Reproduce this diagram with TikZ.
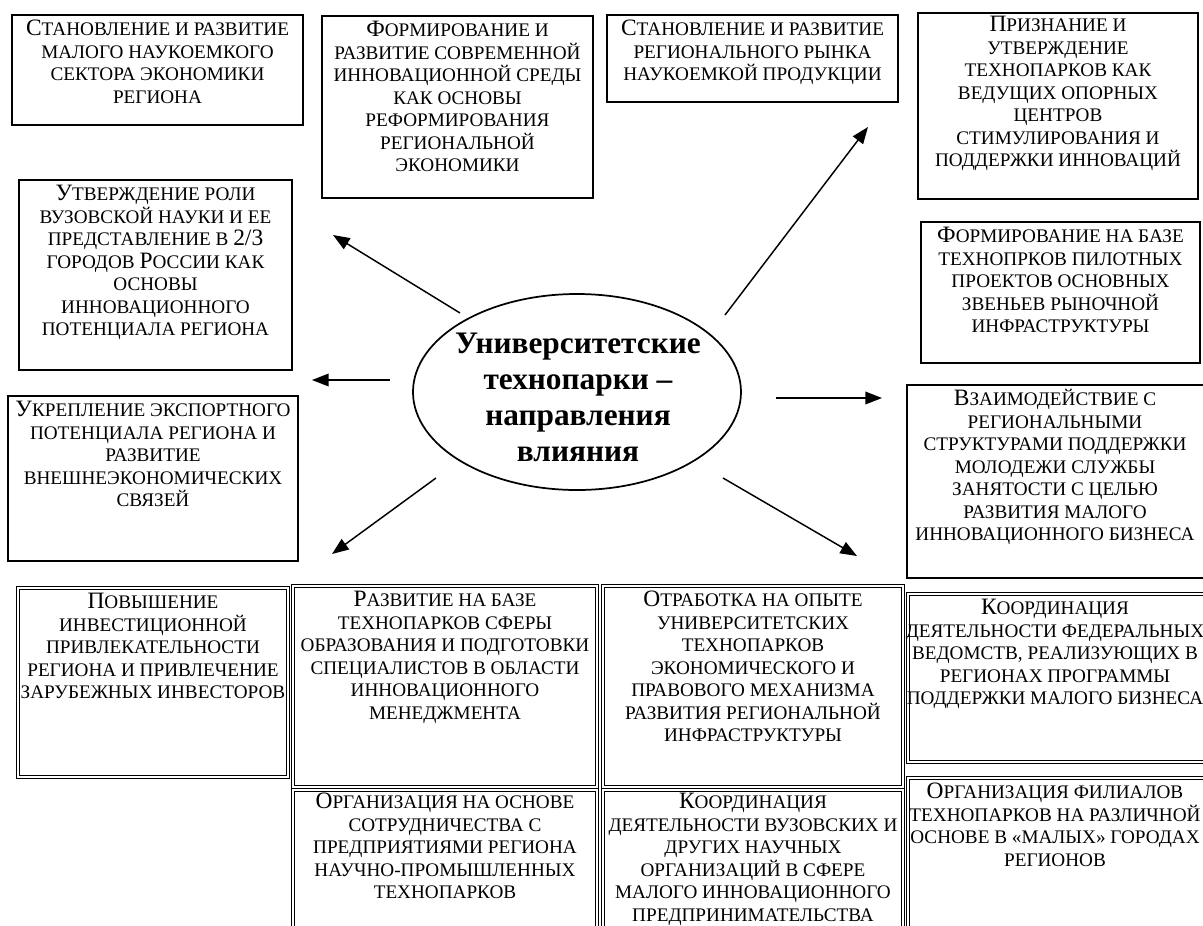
\documentclass[tikz,border=0pt]{standalone}
\usepackage{fontspec}
\setmainfont{Liberation Serif}
\usetikzlibrary{arrows.meta,shapes.geometric,fit}
\newcommand\Bg[1]{{\fontsize{17.6}{16.9}\selectfont #1}}
\newcommand\St{\rule{0pt}{13pt}}
\begin{document}
\begin{tikzpicture}[x=0.75pt,y=-0.75pt,
  box/.style={draw, line width=1.3pt, inner sep=0pt},
  tbox/.style={draw, double, line width=0.6pt, double distance=1.1pt, inner sep=0pt},
  txt/.style={align=center, font=\fontsize{14.4}{16.9}\selectfont, inner sep=0pt, anchor=north},
  arr/.style={line width=1.1pt, -{Triangle[length=12.5pt,width=9.5pt]}}]
\useasboundingbox (0,0) rectangle (1203,925);
\clip (0,0) rectangle (1203,925);

% boxes
\node[box, fit={(12,15) (303,125)}] (b1) {};
\node[box, fit={(322,16) (593,198)}] (b2) {};
\node[box, fit={(607,15) (898,102)}] (b3) {};
\node[box, fit={(918,13) (1198,199)}] (b4) {};
\node[box, fit={(19,180) (292,370)}] (b5) {};
\node[box, fit={(921,222) (1200,363)}] (b6) {};
\node[box, fit={(8,396) (298,561)}] (b7) {};
\node[box, fit={(907,385) (1210,578)}] (b8) {};
\node[tbox, fit={(18,588) (288,777)}] (b9) {};
\node[tbox, fit={(293,586) (597,787)}] (b10) {};
\node[tbox, fit={(603,586) (903,787)}] (b11) {};
\node[tbox, fit={(908,594) (1210,762)}] (b12) {};
\node[tbox, fit={(293,790) (597,940)}] (b13) {};
\node[tbox, fit={(603,790) (903,940)}] (b14) {};
\node[tbox, fit={(908,778) (1210,940)}] (b15) {};

% texts
\node[txt] (t1) at (157.5,18) {\St\Bg{С}ТАНОВЛЕНИЕ И РАЗВИТИЕ\\МАЛОГО НАУКОЕМКОГО\\СЕКТОРА ЭКОНОМИКИ\\РЕГИОНА};
\node[txt] (t2) at (457.5,19) {\St\Bg{Ф}ОРМИРОВАНИЕ И\\РАЗВИТИЕ СОВРЕМЕННОЙ\\ИННОВАЦИОННОЙ СРЕДЫ\\КАК ОСНОВЫ\\РЕФОРМИРОВАНИЯ\\РЕГИОНАЛЬНОЙ\\ЭКОНОМИКИ};
\node[txt] (t3) at (752.5,18) {\St\Bg{С}ТАНОВЛЕНИЕ И РАЗВИТИЕ\\РЕГИОНАЛЬНОГО РЫНКА\\НАУКОЕМКОЙ ПРОДУКЦИИ};
\node[txt] (t4) at (1058,14) {\St\Bg{П}РИЗНАНИЕ И\\УТВЕРЖДЕНИЕ\\ТЕХНОПАРКОВ КАК\\ВЕДУЩИХ ОПОРНЫХ\\ЦЕНТРОВ\\СТИМУЛИРОВАНИЯ И\\ПОДДЕРЖКИ ИННОВАЦИЙ};
\node[txt] (t5) at (155.5,183) {\St\Bg{У}ТВЕРЖДЕНИЕ РОЛИ\\ВУЗОВСКОЙ НАУКИ И ЕЕ\\ПРЕДСТАВЛЕНИЕ В \Bg{2/3}\\ГОРОДОВ \Bg{Р}ОССИИ КАК\\ОСНОВЫ\\ИННОВАЦИОННОГО\\ПОТЕНЦИАЛА РЕГИОНА};
\node[txt] (t6) at (1060.5,225) {\St\Bg{Ф}ОРМИРОВАНИЕ НА БАЗЕ\\ТЕХНОПРКОВ ПИЛОТНЫХ\\ПРОЕКТОВ ОСНОВНЫХ\\ЗВЕНЬЕВ РЫНОЧНОЙ\\ИНФРАСТРУКТУРЫ};
\node[txt] (t7) at (153,399) {\St\Bg{У}КРЕПЛЕНИЕ ЭКСПОРТНОГО\\ПОТЕНЦИАЛА РЕГИОНА И\\РАЗВИТИЕ\\ВНЕШНЕЭКОНОМИЧЕСКИХ\\СВЯЗЕЙ};
\node[txt] (t8) at (1055,388) {\St\Bg{В}ЗАИМОДЕЙСТВИЕ С\\РЕГИОНАЛЬНЫМИ\\СТРУКТУРАМИ ПОДДЕРЖКИ\\МОЛОДЕЖИ СЛУЖБЫ\\ЗАНЯТОСТИ С ЦЕЛЬЮ\\РАЗВИТИЯ МАЛОГО\\ИННОВАЦИОННОГО БИЗНЕСА};
\node[txt] (t9) at (153,591) {\St\Bg{П}ОВЫШЕНИЕ\\ИНВЕСТИЦИОННОЙ\\ПРИВЛЕКАТЕЛЬНОСТИ\\РЕГИОНА И ПРИВЛЕЧЕНИЕ\\ЗАРУБЕЖНЫХ ИНВЕСТОРОВ};
\node[txt] (t10) at (445,589) {\St\Bg{Р}АЗВИТИЕ НА БАЗЕ\\ТЕХНОПАРКОВ СФЕРЫ\\ОБРАЗОВАНИЯ И ПОДГОТОВКИ\\СПЕЦИАЛИСТОВ В ОБЛАСТИ\\ИННОВАЦИОННОГО\\МЕНЕДЖМЕНТА};
\node[txt] (t11) at (753,589) {\St\Bg{О}ТРАБОТКА НА ОПЫТЕ\\УНИВЕРСИТЕТСКИХ\\ТЕХНОПАРКОВ\\ЭКОНОМИЧЕСКОГО И\\ПРАВОВОГО МЕХАНИЗМА\\РАЗВИТИЯ РЕГИОНАЛЬНОЙ\\ИНФРАСТРУКТУРЫ};
\node[txt] (t12) at (1055,597) {\St\Bg{К}ООРДИНАЦИЯ\\ДЕЯТЕЛЬНОСТИ ФЕДЕРАЛЬНЫХ\\ВЕДОМСТВ, РЕАЛИЗУЮЩИХ В\\РЕГИОНАХ ПРОГРАММЫ\\ПОДДЕРЖКИ МАЛОГО БИЗНЕСА};
\node[txt] (t13) at (445,791) {\St\Bg{О}РГАНИЗАЦИЯ НА ОСНОВЕ\\СОТРУДНИЧЕСТВА С\\ПРЕДПРИЯТИЯМИ РЕГИОНА\\НАУЧНО-ПРОМЫШЛЕННЫХ\\ТЕХНОПАРКОВ};
\node[txt] (t14) at (753,791) {\St\Bg{К}ООРДИНАЦИЯ\\ДЕЯТЕЛЬНОСТИ ВУЗОВСКИХ И\\ДРУГИХ НАУЧНЫХ\\ОРГАНИЗАЦИЙ В СФЕРЕ\\МАЛОГО ИННОВАЦИОННОГО\\ПРЕДПРИНИМАТЕЛЬСТВА};
\node[txt] (t15) at (1055,781) {\St\Bg{О}РГАНИЗАЦИЯ ФИЛИАЛОВ\\ТЕХНОПАРКОВ НА РАЗЛИЧНОЙ\\ОСНОВЕ В «МАЛЫХ» ГОРОДАХ\\РЕГИОНОВ};

% centre
\node[draw, ellipse, line width=1.3pt, minimum width=246pt, minimum height=147pt, inner sep=0pt] (c) at (577,392) {};
\node[align=center, font=\fontsize{23.5}{27}\selectfont\bfseries, inner sep=0pt] (ct) at (578,397) {Университетские\\технопарки –\\направления\\влияния};

% arrows
\coordinate (a1s) at (460,313); \coordinate (a1e) at (333,235);
\coordinate (a2s) at (725,315); \coordinate (a2e) at (868,127);
\coordinate (a3s) at (390,380); \coordinate (a3e) at (312,380);
\coordinate (a4s) at (776,398); \coordinate (a4e) at (882,398);
\coordinate (a5s) at (436,478); \coordinate (a5e) at (332,554);
\coordinate (a6s) at (723,478); \coordinate (a6e) at (857,556);
\draw[arr] (a1s) -- (a1e);
\draw[arr] (a2s) -- (a2e);
\draw[arr] (a3s) -- (a3e);
\draw[arr] (a4s) -- (a4e);
\draw[arr] (a5s) -- (a5e);
\draw[arr] (a6s) -- (a6e);
\end{tikzpicture}
\end{document}
